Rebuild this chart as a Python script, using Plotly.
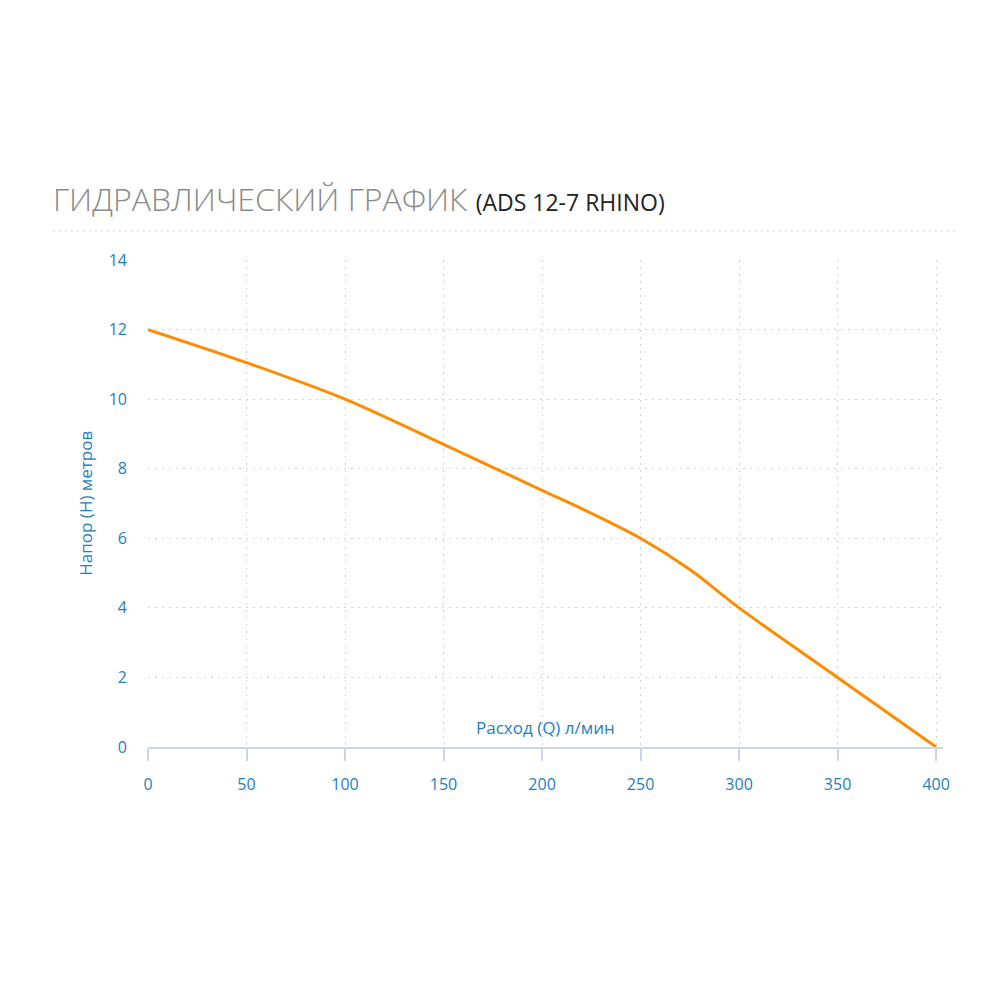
import plotly.graph_objects as go

# Гидравлическая характеристика насоса ADS 12-7 RHINO
flow_q = [0, 50, 100, 150, 200, 225, 250, 275, 300, 350, 400]
head_h = [12, 11.05, 10, 8.7, 7.38, 6.72, 6.0, 5.1, 4.0, 2.0, 0]

x_ticks = [0, 50, 100, 150, 200, 250, 300, 350, 400]
y_ticks = [0, 2, 4, 6, 8, 10, 12, 14]

title_main = 'ГИДРАВЛИЧЕСКИЙ ГРАФИК'
title_model = '(ADS 12-7 RHINO)'
x_title = 'Расход (Q) л/мин'
y_title = 'Напор (H) метров'

blue = '#1f7ec2'
grid = '#d2d2d2'
axis_col = '#c9d6ec'


def build_figure():
    fig = go.Figure()
    fig.add_trace(go.Scatter(
        x=flow_q, y=head_h, mode='lines',
        line=dict(color='#ff8c00', width=3, shape='spline', smoothing=0.9),
        hoverinfo='x+y', showlegend=False,
    ))

    fig.update_layout(
        width=1000, height=1000,
        margin=dict(l=140, r=65, t=252, b=261),
        paper_bgcolor='white', plot_bgcolor='white',
        font=dict(family='Open Sans, DejaVu Sans, sans-serif', color=blue, size=16),
        title=dict(
            text=title_main + ' <span style="font-size:23px;color:#222;font-weight:400">'
                 + title_model + '</span>',
            x=0.045, xanchor='left', y=0.808, yanchor='middle',
            font=dict(size=32, color='#8a8a8a', weight=300),
        ),
    )

    fig.update_xaxes(
        range=[0, 403.5], tickvals=x_ticks, showgrid=True,
        gridcolor=grid, griddash='2px,5px', gridwidth=1.2,
        showline=True, linecolor=axis_col, linewidth=2,
        ticks='outside', ticklen=12, tickcolor=axis_col, tickwidth=2,
        ticklabelstandoff=10, zeroline=False,
        tickfont=dict(color=blue, size=16),
    )
    fig.update_yaxes(
        range=[0, 14], tickvals=y_ticks, showgrid=True,
        gridcolor=grid, griddash='2px,5px', gridwidth=1.2,
        showline=False, ticks='', ticklabelstandoff=20, zeroline=False,
        tickfont=dict(color=blue, size=16),
    )

    # пунктир под заголовком
    fig.add_shape(type='line', xref='paper', yref='paper',
                  x0=-0.1195, x1=1.019, y0=1.0595, y1=1.0595,
                  line=dict(color='#d2d2d2', width=1.2, dash='2px,4px'))

    fig.add_annotation(text=x_title, xref='paper', yref='paper', x=0.5, y=0,
                       xanchor='center', yanchor='bottom', yshift=6,
                       showarrow=False, font=dict(color=blue, size=17))
    fig.add_annotation(text=y_title, xref='paper', yref='paper', x=-0.079, y=0.5,
                       xanchor='center', yanchor='middle', textangle=-90,
                       showarrow=False, font=dict(color=blue, size=17))
    return fig


if __name__ == '__main__':
    fig = build_figure()
    fig.write_html('out.html')
